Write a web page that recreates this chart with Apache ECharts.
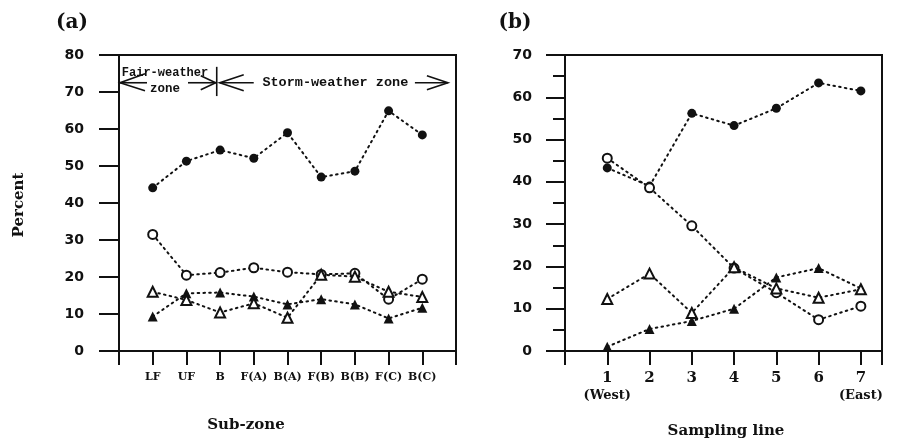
<!DOCTYPE html>
<html><head><meta charset="utf-8">
<script src="https://cdn.jsdelivr.net/npm/echarts@6/dist/echarts.min.js"></script>
<style>html,body{margin:0;padding:0;background:#fff}#c{width:899px;height:448px}</style>
</head><body><div id="c"></div>
<script>
// ---- data (a): by sub-zone ----
const subZones = ['LF', 'UF', 'B', 'F(A)', 'B(A)', 'F(B)', 'B(B)', 'F(C)', 'B(C)'];
const aFilledCircle   = [44.1, 51.3, 54.3, 52.1, 59.0, 47.0, 48.6, 64.9, 58.4];
const aOpenCircle     = [31.5, 20.5, 21.2, 22.5, 21.3, 20.7, 21.0, 14.0, 19.4];
const aFilledTriangle = [9.3, 15.6, 15.8, 14.7, 12.6, 14.0, 12.6, 8.8, 11.7];
const aOpenTriangle   = [16.0, 13.8, 10.4, 12.9, 9.0, 20.6, 20.1, 16.0, 14.6];
// ---- data (b): by sampling line ----
const samplingLines = ['1', '2', '3', '4', '5', '6', '7'];
const lineNotes = ['(West)', '', '', '', '', '', '(East)'];
const bFilledCircle   = [43.3, 39.0, 56.2, 53.3, 57.4, 63.4, 61.5];
const bOpenCircle     = [45.6, 38.6, 29.6, 19.6, 13.8, 7.4, 10.6];
const bFilledTriangle = [1.0, 5.2, 7.1, 10.0, 17.4, 19.6, 14.8];
const bOpenTriangle   = [12.3, 18.3, 9.0, 19.8, 14.8, 12.6, 14.6];

const chart = echarts.init(document.getElementById('c'), null, {renderer: 'canvas'});
const BLACK = '#111';
const serif = 'DejaVu Serif';
const sans = 'DejaVu Sans';
const mono = 'Liberation Mono';

function pts(arr) { return arr.map((v, i) => [i + 1, v]); }
function mkSeries(arr, idx, symbol, filled) {
  return {
    type: 'line', xAxisIndex: idx, yAxisIndex: idx, data: pts(arr),
    symbol: symbol, symbolSize: symbol === 'triangle' ? 10 : 9,
    showSymbol: true, z: filled ? 3 : 4,
    lineStyle: {color: BLACK, width: 2, type: [1.6, 4.2], cap: 'round'},
    itemStyle: {color: filled ? BLACK : '#fff', borderColor: BLACK, borderWidth: filled ? 0 : 2},
    emphasis: {disabled: true}, animation: false
  };
}

const axisLine = {show: true, onZero: false, lineStyle: {color: BLACK, width: 2}};
const yLabel = {fontFamily: sans, fontWeight: 'bold', fontSize: 14, color: BLACK};

const option = {
  animation: false,
  grid: [
    {left: 119, top: 55, width: 337, height: 296, show: true, borderColor: BLACK, borderWidth: 2},
    {left: 565, top: 55, width: 317, height: 296, show: true, borderColor: BLACK, borderWidth: 2}
  ],
  xAxis: [
    {type: 'value', gridIndex: 0, min: 0, max: 10, interval: 1,
     axisLine: axisLine, splitLine: {show: false},
     axisTick: {show: true, length: 14, lineStyle: {color: BLACK, width: 2}},
     axisLabel: {margin: 21, fontFamily: serif, fontWeight: 'bold', fontSize: 11, color: BLACK,
       formatter: v => (v >= 1 && v <= subZones.length && Number.isInteger(v)) ? subZones[v - 1] : ''}},
    {type: 'value', gridIndex: 1, min: 0, max: 7.5, interval: 1,
     axisLine: axisLine, splitLine: {show: false},
     axisTick: {show: true, length: 14, lineStyle: {color: BLACK, width: 2}},
     axisLabel: {margin: 19, color: BLACK,
       formatter: v => {
         if (!(v >= 1 && v <= samplingLines.length && Number.isInteger(v))) return '';
         const n = lineNotes[v - 1];
         return '{n|' + samplingLines[v - 1] + '}' + (n ? '\n{s|' + n + '}' : '');
       },
       rich: {
         n: {fontFamily: serif, fontWeight: 'bold', fontSize: 15, lineHeight: 17, color: BLACK},
         s: {fontFamily: serif, fontWeight: 'bold', fontSize: 13, lineHeight: 18, color: BLACK}
       }}}
  ],
  yAxis: [
    {type: 'value', gridIndex: 0, min: 0, max: 80, interval: 10,
     axisLine: axisLine, splitLine: {show: false},
     axisTick: {show: true, length: 20, lineStyle: {color: BLACK, width: 2}},
     axisLabel: Object.assign({margin: 35}, yLabel)},
    {type: 'value', gridIndex: 1, min: 0, max: 70, interval: 10,
     axisLine: axisLine, splitLine: {show: false},
     axisTick: {show: true, length: 19, lineStyle: {color: BLACK, width: 2}},
     minorTick: {show: true, splitNumber: 2, length: 12, lineStyle: {color: BLACK, width: 2}},
     minorSplitLine: {show: false},
     axisLabel: Object.assign({margin: 33}, yLabel)}
  ],
  series: [
    mkSeries(aFilledCircle, 0, 'circle', true),
    mkSeries(aOpenCircle, 0, 'circle', false),
    mkSeries(aFilledTriangle, 0, 'triangle', true),
    mkSeries(aOpenTriangle, 0, 'triangle', false),
    mkSeries(bFilledCircle, 1, 'circle', true),
    mkSeries(bOpenCircle, 1, 'circle', false),
    mkSeries(bFilledTriangle, 1, 'triangle', true),
    mkSeries(bOpenTriangle, 1, 'triangle', false)
  ]
};
chart.setOption(option);

// ---- annotations, positioned through the axes of panel (a) ----
const P = (x, y) => chart.convertToPixel({xAxisIndex: 0, yAxisIndex: 0}, [x, y]);
const zoneY = 72.5, sepX = 2.9, stormEndX = 9.76;
const [x0, ay] = P(0, zoneY);
const [sx] = P(sepX, zoneY);
const [ex] = P(stormEndX, zoneY);
const [, sepTop] = P(sepX, 76.8);
const [, sepBot] = P(sepX, 68.9);
const [, fairY] = P(0, 75.1);
const [, zoneLblY] = P(0, 70.8);
const ls = {stroke: BLACK, lineWidth: 1.6, fill: null};
function poly(points) { return {type: 'polyline', shape: {points: points}, style: ls, silent: true}; }

const g = [
  // fair-weather: left arrow
  poly([[x0 + 1, ay], [x0 + 28, ay]]),
  poly([[x0 + 26, ay - 9], [x0 + 1, ay], [x0 + 26, ay + 8]]),
  // fair-weather: right arrow to separator
  poly([[x0 + 69, ay], [sx - 1, ay]]),
  poly([[sx - 16, ay - 7], [sx - 1, ay], [sx - 16, ay + 7]]),
  // separator
  poly([[sx, sepTop], [sx, sepBot]]),
  // storm-weather: left arrow
  poly([[sx + 3, ay], [sx + 37, ay]]),
  poly([[sx + 27, ay - 8], [sx + 3, ay], [sx + 27, ay + 8]]),
  // storm-weather: right arrow
  poly([[ex - 33, ay], [ex, ay]]),
  poly([[ex - 21, ay - 7], [ex, ay], [ex - 21, ay + 7]]),
  {type: 'text', silent: true, style: {text: 'Fair-weather', x: x0 + 46, y: fairY, align: 'center', verticalAlign: 'middle',
    font: 'bold 12px "' + mono + '"', fill: BLACK}},
  {type: 'text', silent: true, style: {text: 'zone', x: x0 + 46, y: zoneLblY, align: 'center', verticalAlign: 'middle',
    font: 'bold 12.5px "' + mono + '"', fill: BLACK}},
  {type: 'text', silent: true, style: {text: 'Storm-weather zone', x: (sx + 44 + ex - 38) / 2, y: ay, align: 'center', verticalAlign: 'middle',
    font: 'bold 13.5px "' + mono + '"', fill: BLACK}},
  // titles & axis names
  {type: 'text', silent: true, style: {text: '(a)', x: 72, y: 23, align: 'center', verticalAlign: 'middle',
    font: 'bold 20px "' + serif + '"', fill: BLACK}},
  {type: 'text', silent: true, style: {text: '(b)', x: 515, y: 23, align: 'center', verticalAlign: 'middle',
    font: 'bold 20px "' + serif + '"', fill: BLACK}},
  {type: 'text', silent: true, rotation: Math.PI / 2, x: 19, y: 205,
    style: {text: 'Percent', x: 0, y: 0, align: 'center', verticalAlign: 'middle',
    font: 'bold 15px "' + serif + '"', fill: BLACK}},
  {type: 'text', silent: true, style: {text: 'Sub-zone', x: 246, y: 425, align: 'center', verticalAlign: 'middle',
    font: 'bold 15px "' + serif + '"', fill: BLACK}},
  {type: 'text', silent: true, style: {text: 'Sampling line', x: 726, y: 431, align: 'center', verticalAlign: 'middle',
    font: 'bold 15px "' + serif + '"', fill: BLACK}}
];
chart.setOption({graphic: g});
</script>
</body></html>
